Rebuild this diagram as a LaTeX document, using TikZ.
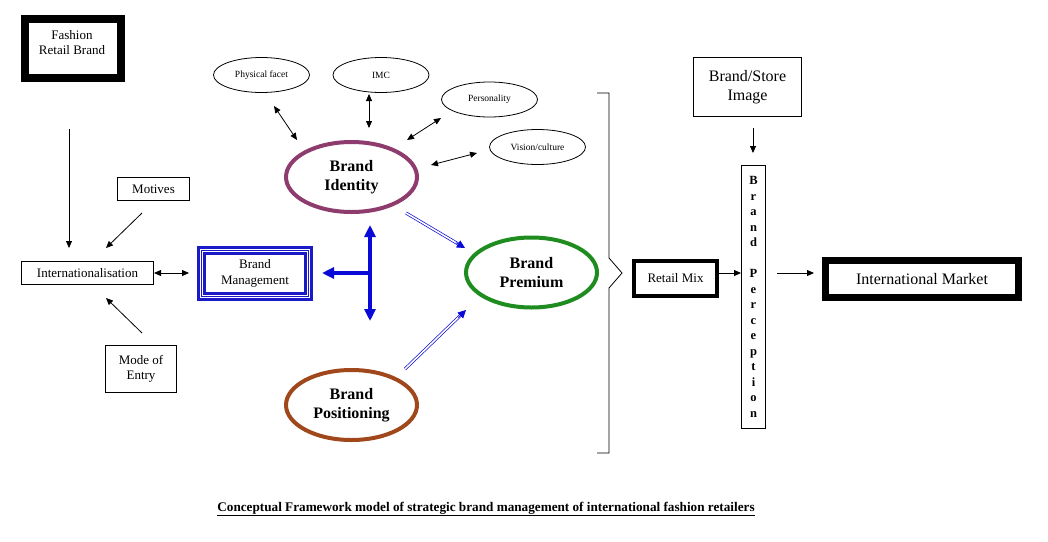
\documentclass[tikz,border=0pt]{standalone}
\usepackage{fontspec}
\setmainfont{Liberation Serif}
\usetikzlibrary{arrows.meta,shapes.geometric,calc}
\definecolor{idcol}{HTML}{8E3B6E}
\definecolor{poscol}{HTML}{A0471C}
\definecolor{premcol}{HTML}{1E8C1E}
\definecolor{bmblue}{HTML}{1A1AC8}
\definecolor{arrblue}{HTML}{0A0AD8}
\begin{document}
\begin{tikzpicture}[x=1pt,y=-1pt,
 box/.style={draw, line width=0.8pt, align=center, inner sep=0pt, outer sep=0pt, font=\fontsize{13}{15}\selectfont},
 thickbox/.style={box, line width=#1},
 smallell/.style={draw, ellipse, line width=0.8pt, minimum width=96pt, minimum height=35pt, inner sep=0pt, outer sep=0pt, font=\fontsize{9.5}{11}\selectfont},
 bigell/.style={draw=#1, ellipse, line width=4pt, minimum width=131pt, minimum height=70pt, inner sep=0pt, outer sep=0pt, align=center, font=\bfseries\fontsize{16}{18.5}\selectfont},
 arr/.style={-{Triangle[length=7pt,width=6pt]}, line width=0.8pt},
 darr/.style={{Triangle[length=7pt,width=6pt]}-{Triangle[length=7pt,width=6pt]}, line width=0.8pt},
 bluearr/.style={-{Triangle[length=12pt,width=11pt]}, line width=4pt, draw=arrblue},
 bluedarr/.style={{Triangle[length=12pt,width=11pt]}-{Triangle[length=12pt,width=11pt]}, line width=4pt, draw=arrblue},
 dblline/.style={draw=arrblue, line width=0.7pt, double=white, double distance=1.6pt, shorten >=5pt},
 dbltip/.style={draw=arrblue, line width=0.7pt, -{Triangle[length=8pt,width=8pt]}, shorten <=#1}
]
\fill[white] (0,0) rectangle (1048,541);
\useasboundingbox (0,0) rectangle (1048,541);

% left column
\node[thickbox=8pt, minimum width=96pt, minimum height=59pt] (frb) at (73,48) {};
\node[font=\fontsize{13}{15}\selectfont, align=center] (frbt) at (72,43) {Fashion\\Retail Brand};
\node[box, minimum width=72pt, minimum height=23pt] (mot) at (153.5,189) {Motives};
\node[box, minimum width=132pt, minimum height=23pt] (int) at (87.5,273) {Internationalisation};
\node[box, minimum width=71pt, minimum height=47pt] (moe) at (141,369) {Mode of\\Entry};

% brand management
\node[box, draw=bmblue, line width=2.7pt, minimum width=113.3pt, minimum height=52.3pt, font=\fontsize{13}{15.5}\selectfont] (bm) at (255,273.5) {Brand\\Management};
\draw[bmblue, line width=0.9pt] ($(bm.north west)+(3.2,3.2)$) rectangle ($(bm.south east)+(-3.2,-3.2)$);
\draw[bmblue, line width=2.4pt] ($(bm.north west)+(6,6)$) rectangle ($(bm.south east)+(-6,-6)$);

% small ellipses
\node[smallell] (phys) at (261.5,75) {Physical facet};
\node[smallell] (imc) at (381,75) {IMC};
\node[smallell] (pers) at (489.5,99.5) {Personality};
\node[smallell] (vis) at (537.5,147) {Vision/culture};

% big ellipses
\node[bigell=idcol] (id) at (351.5,177) {Brand\\Identity};
\node[bigell=poscol] (pos) at (351.5,405) {Brand\\Positioning};
\node[bigell=premcol] (prem) at (531.5,272.5) {Brand\\Premium};

% brace
\draw[line width=0.8pt] (597,93) -- (609,93) -- (609,258) -- (622,273) -- (609,288) -- (609,453) -- (597,453);

% right part
\node[thickbox=4pt, minimum width=83pt, minimum height=35pt] (rm) at (675.5,278.5) {Retail Mix};
\node[box, minimum width=108pt, minimum height=59pt, font=\fontsize{16}{18.5}\selectfont] (bsi) at (747.5,87) {Brand/Store\\Image};
\node[box, minimum width=24pt, minimum height=263pt, font=\bfseries\fontsize{12.5}{15.5}\selectfont] (bp) at (753.5,297) {B\\r\\a\\n\\d\\[15.5pt]P\\e\\r\\c\\e\\p\\t\\i\\o\\n};
\node[thickbox=7pt, minimum width=193pt, minimum height=37pt, font=\fontsize{16}{18}\selectfont] (im) at (922,279) {International Market};

% caption
\node[font=\bfseries\fontsize{13.2}{15}\selectfont] (cap) at (486,509) {\underline{Conceptual Framework model of strategic brand management of international fashion retailers}};

% connector end points
\coordinate (frbA) at (69,129);  \coordinate (intA) at (69,248);
\coordinate (motA) at (142,213); \coordinate (intB) at (106,248);
\coordinate (moeA) at (142,333); \coordinate (intC) at (106,298);
\coordinate (intD) at (154,273); \coordinate (bmA) at (189,273);
\coordinate (physA) at (274,106); \coordinate (idA) at (297,140);
\coordinate (imcA) at (369,94);  \coordinate (idB) at (369,128);
\coordinate (persA) at (441,118); \coordinate (idC) at (407,140);
\coordinate (visA) at (477,153); \coordinate (idD) at (431,165);
\coordinate (idE) at (406,213);  \coordinate (premA) at (465,248);
\coordinate (posA) at (405,369); \coordinate (premB) at (466,310);
\coordinate (tTop) at (370,225); \coordinate (tBot) at (370,321);
\coordinate (tMid) at (370,273); \coordinate (bmB) at (322,273);
\coordinate (bsiA) at (753,128); \coordinate (bpA) at (753,153);
\coordinate (rmA) at (719,273);  \coordinate (bpB) at (741,273);
\coordinate (bpC) at (777,273);  \coordinate (imA) at (814,273);

\draw[arr] (frbA) -- (intA);
\draw[arr] (motA) -- (intB);
\draw[arr] (moeA) -- (intC);
\draw[darr] (intD) -- (bmA);
\draw[darr] (physA) -- (idA);
\draw[darr] (imcA) -- (idB);
\draw[darr] (persA) -- (idC);
\draw[darr] (visA) -- (idD);
\draw[dblline] (idE) -- (premA);
\draw[dbltip=58pt] (idE) -- (premA);
\draw[dblline] (posA) -- (premB);
\draw[dbltip=74pt] (posA) -- (premB);
\draw[bluedarr] (tTop) -- (tBot);
\draw[bluearr] (tMid) -- (bmB);
\draw[arr] (bsiA) -- (bpA);
\draw[arr] (rmA) -- (bpB);
\draw[arr] (bpC) -- (imA);
\end{tikzpicture}
\end{document}
